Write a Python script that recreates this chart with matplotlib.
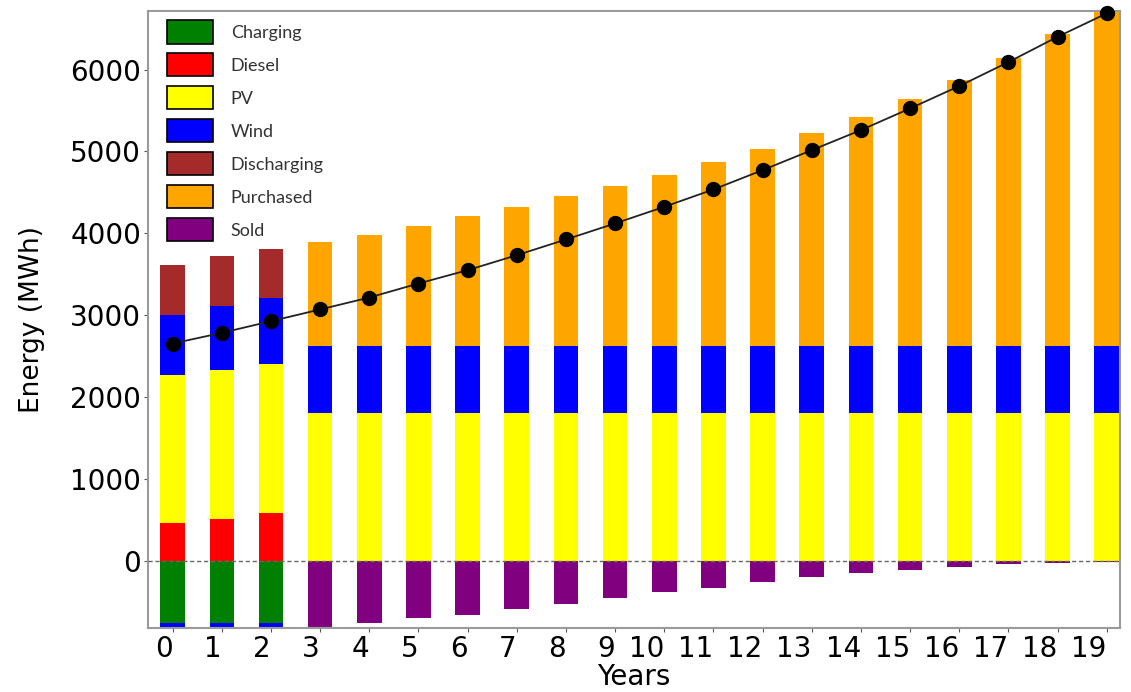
import matplotlib
matplotlib.use("Agg")
import matplotlib.pyplot as plt
from matplotlib.patches import Patch
import numpy as np

# Annual energy balance (MWh)
years = list(range(20))
year_labels = [str(y) for y in years]

diesel = [462, 515, 589] + [0] * 17
pv = [1811] * 20
wind = [725, 782, 806] + [810] * 17
discharging = [619, 615, 607] + [0] * 17
purchased = [0, 0, 0,
             1267, 1360, 1471, 1589, 1695, 1833, 1959, 2089, 2249,
             2409, 2599, 2795, 3015, 3251, 3516, 3809, 4078]

charging = [-762, -762, -762] + [0] * 17
wind_spill = [-195, -179, -134] + [0] * 17
sold = [0, 0, 0,
        -818, -765, -705, -660, -583, -529, -459, -386, -334,
        -258, -204, -155, -110, -73, -45, -29, -12]

load = [2654, 2784, 2927, 3070, 3216, 3387, 3550, 3733, 3925, 4121,
        4324, 4536, 4772, 5016, 5261, 5526, 5799, 6092, 6401, 6687]

series_names = ["Charging", "Diesel", "PV", "Wind", "Discharging", "Purchased", "Sold"]
series_colors = ["green", "red", "yellow", "blue", "brown", "orange", "purple"]
color_of = dict(zip(series_names, series_colors))

fig = plt.figure(figsize=(11.31, 6.92), dpi=100)
ax = fig.add_axes([0.1309, 0.0925, 0.8594, 0.8915])

x = np.arange(len(years))
w = 0.5

# positive side of the stack
bottom = np.zeros(len(years))
for vals, name in [(diesel, "Diesel"), (pv, "PV"), (wind, "Wind"),
                   (discharging, "Discharging"), (purchased, "Purchased")]:
    v = np.array(vals, dtype=float)
    ax.bar(x, v, w, bottom=bottom, color=color_of[name], linewidth=0)
    bottom += v

# negative side of the stack
neg = np.zeros(len(years))
for vals, col in [(charging, color_of["Charging"]), (wind_spill, color_of["Wind"]),
                  (sold, color_of["Sold"])]:
    v = np.array(vals, dtype=float)
    ax.bar(x, v, w, bottom=neg, color=col, linewidth=0)
    neg += v

ax.axhline(0, color="#666666", linestyle=(0, (3, 2)), linewidth=1.0, zorder=3)

ax.plot(x, load, color="#222222", linewidth=1.3, marker="o",
        markersize=10, markerfacecolor="black", markeredgecolor="black",
        zorder=4, clip_on=False)

ax.set_xlim(-0.5, 19.27)
ax.set_ylim(-821, 6715)
ax.set_xticks(x)
ax.set_xticklabels(year_labels, ha="right")
ax.set_yticks(np.arange(0, 7000, 1000))
ax.tick_params(axis="both", labelsize=20, length=3, color="#555555", pad=2)

for s in ax.spines.values():
    s.set_color("#9a9a9a")
    s.set_linewidth(1.5)

ax.set_xlabel("Years", fontsize=20, labelpad=0)
ax.set_ylabel("Energy (MWh)", fontsize=19, labelpad=18)

handles = [Patch(facecolor=color_of[n], edgecolor="black", linewidth=1.2, label=n)
           for n in series_names]
ax.legend(handles=handles, loc="upper left", bbox_to_anchor=(0.02, 0.985),
          frameon=False, borderpad=0, borderaxespad=0,
          prop={"family": "Lato", "size": 13}, labelcolor="#333333",
          handlelength=2.5, handleheight=1.6, labelspacing=0.54,
          handletextpad=1.0)

fig.savefig("out.png", dpi=100)
